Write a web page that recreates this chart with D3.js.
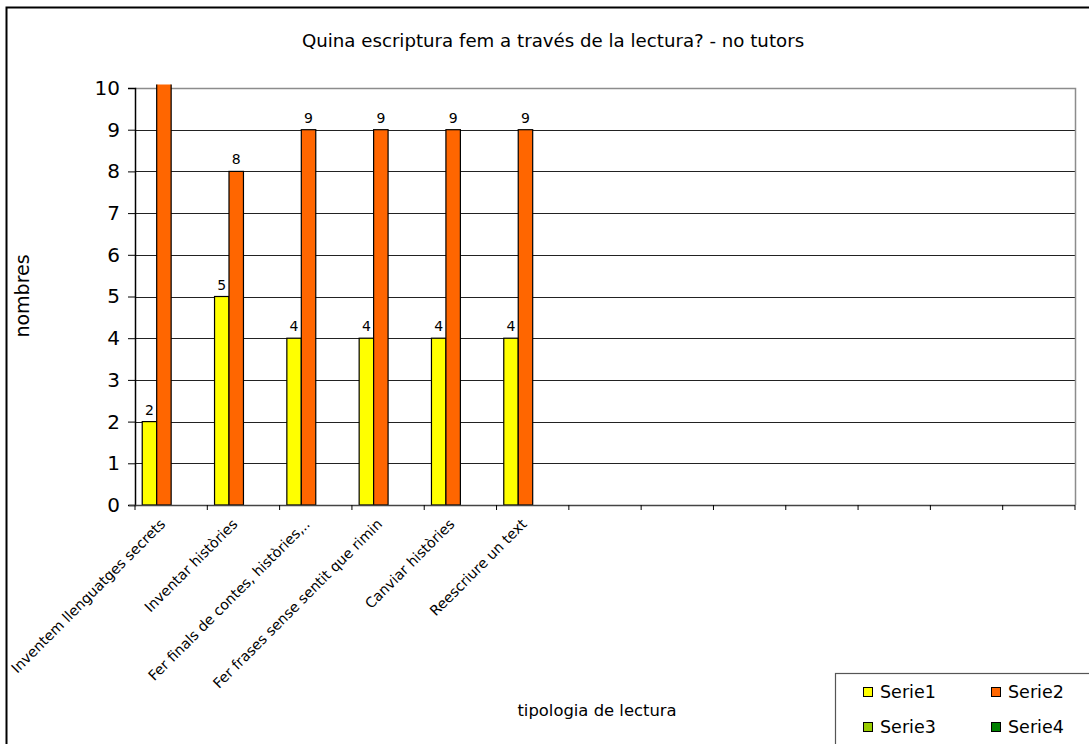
<!DOCTYPE html>
<html><head><meta charset="utf-8">
<script src="https://cdn.jsdelivr.net/npm/d3@7"></script>
<style>body{margin:0;background:#fff}svg{display:block;font-family:"DejaVu Sans",Verdana,sans-serif}</style>
</head><body><svg id="c" width="1089" height="744"></svg>
<script>
const title = "Quina escriptura fem a través de la lectura? - no tutors";
const categories = ["Inventem llenguatges secrets","Inventar històries","Fer finals de contes, històries,..","Fer frases sense sentit que rimin","Canviar històries","Reescriure un text","c7","c8","c9","c10","c11","c12","c13"];
const categoryLabels = ["Inventem llenguatges secrets","Inventar històries","Fer finals de contes, històries,..","Fer frases sense sentit que rimin","Canviar històries","Reescriure un text","","","","","","",""];
const seriesNames = ["Serie1","Serie2","Serie3","Serie4"];
const seriesColors = ["#FFFF00","#FF6600","#99CC00","#008000"];
const serie1 = [2,5,4,4,4,4,null,null,null,null,null,null,null];
const serie2 = [11,8,9,9,9,9,null,null,null,null,null,null,null];
const serie3 = [null,null,null,null,null,null,null,null,null,null,null,null,null];
const serie4 = [null,null,null,null,null,null,null,null,null,null,null,null,null];
const yTicks = [0,1,2,3,4,5,6,7,8,9,10];
const xTitle = "tipologia de lectura";
const yTitle = "nombres";

const seriesValues = [serie1, serie2, serie3, serie4];
const svg = d3.select("#c");
const W = 1089, H = 744;
const L = 135, R = 1075, T = 88, B = 505;

// outer frame
svg.append("rect").attr("x",6.5).attr("y",7.5).attr("width",W+20).attr("height",H+20)
  .attr("fill","#fff").attr("stroke","#000").attr("stroke-width",2);

svg.append("text").attr("x",553).attr("y",47).attr("text-anchor","middle")
  .attr("font-size",18.2).attr("fill","#000").text(title);

const x = d3.scaleBand().domain(categories).range([L,R]).paddingInner(0).paddingOuter(0);
const xs = d3.scaleBand().domain(seriesNames).range([0,x.bandwidth()]).paddingOuter(0.5).paddingInner(0);
const y = d3.scaleLinear().domain([0,10]).range([B,T]);

// gridlines
svg.append("g").selectAll("line").data(yTicks.filter(d=>d>0&&d<10)).join("line")
  .attr("x1",L).attr("x2",R).attr("y1",d=>Math.round(y(d))+0.5).attr("y2",d=>Math.round(y(d))+0.5)
  .attr("stroke","#222").attr("stroke-width",1);
// plot border top/right (gray)
svg.append("path").attr("d",`M${L},${Math.round(T)+0.5}H${R+0.5}V${B}`).attr("fill","none").attr("stroke","#8c8c8c").attr("stroke-width",1.5);

svg.append("clipPath").attr("id","pc").append("rect").attr("x",L).attr("y",T-3.5).attr("width",R-L).attr("height",B-T+3.5);

const bars = [];
seriesValues.forEach((vals,si)=>vals.forEach((v,ci)=>{ if(v!=null) bars.push({si,ci,v}); }));
const g = svg.append("g").attr("clip-path","url(#pc)");
g.selectAll("rect").data(bars).join("rect")
  .attr("x",d=>x(categories[d.ci])+xs(seriesNames[d.si]))
  .attr("width",xs.bandwidth())
  .attr("y",d=>y(d.v)).attr("height",d=>B-y(d.v))
  .attr("fill",d=>seriesColors[d.si]).attr("stroke","#000").attr("stroke-width",1.2);

// value labels
svg.append("g").selectAll("text").data(bars.filter(d=>d.v<=10)).join("text")
  .attr("x",d=>x(categories[d.ci])+xs(seriesNames[d.si])+xs.bandwidth()/2)
  .attr("y",d=>y(d.v)-7).attr("text-anchor","middle").attr("font-size",14).attr("fill","#000")
  .text(d=>d.v);

// y axis
const ya = svg.append("g").attr("transform",`translate(${L},0)`)
  .call(d3.axisLeft(y).tickValues(yTicks).tickSize(7).tickPadding(8).tickFormat(d3.format("d")));
ya.select(".domain").attr("stroke","#000").attr("stroke-width",1.5);
ya.selectAll(".tick line").attr("stroke","#000");
ya.selectAll("text").attr("font-size",20).attr("font-family","DejaVu Sans, Verdana, sans-serif").attr("fill","#000");

// x axis
const xa = svg.append("g").attr("transform",`translate(0,${B})`);
xa.append("line").attr("x1",L-6).attr("x2",R).attr("y1",0.5).attr("y2",0.5).attr("stroke","#444").attr("stroke-width",1.5);
const bounds = categories.map(c=>x(c)).concat([R]);
xa.selectAll("line.t").data(bounds).join("line").attr("class","t")
  .attr("x1",d=>d).attr("x2",d=>d).attr("y1",0).attr("y2",5).attr("stroke","#000");
xa.selectAll("text").data(categories).join("text")
  .attr("transform",c=>`translate(${x(c)+x.bandwidth()/2-5},${20}) rotate(-45)`)
  .attr("text-anchor","end").attr("font-size",14.2).attr("fill","#000")
  .text((c,i)=>categoryLabels[i]);

svg.append("text").attr("x",597).attr("y",716).attr("text-anchor","middle").attr("font-size",16.4).attr("fill","#000").text(xTitle);
svg.append("text").attr("transform","translate(29,296) rotate(-90)").attr("text-anchor","middle").attr("font-size",19).attr("fill","#000").text(yTitle);

// legend
const lg = svg.append("g");
lg.append("rect").attr("x",835.5).attr("y",673.5).attr("width",300).attr("height",120).attr("fill","#fff").attr("stroke","#555").attr("stroke-width",1.2);
seriesNames.forEach((n,i)=>{
  const lx = 863 + (i%2)*128, ly = 687 + Math.floor(i/2)*35;
  lg.append("rect").attr("x",lx+0.5).attr("y",ly+0.5).attr("width",9).attr("height",9).attr("fill",seriesColors[i]).attr("stroke","#000");
  lg.append("text").attr("x",lx+17).attr("y",ly+11).attr("font-size",17.5).attr("fill","#000").text(n);
});
</script></body></html>
